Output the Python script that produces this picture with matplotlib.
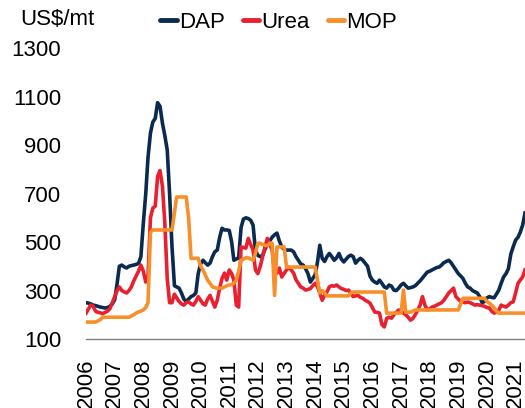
import numpy as np
import pandas as pd
import matplotlib
matplotlib.use('Agg')
import matplotlib.pyplot as plt

plt.rcParams['font.family'] = ['Liberation Sans', 'DejaVu Sans']

# monthly prices, Jan 2006 - May 2021 (US$/mt)
dap = [250, 248, 245, 240, 238, 235, 232, 230, 228, 230, 235, 245,
       262, 330, 400, 405, 398, 393, 400, 403, 405, 408, 412, 440,
       578, 700, 850, 950, 995, 1010, 1075, 1060, 990, 940, 880, 700,
       480, 320, 315, 310, 290, 265, 255, 265, 275, 280, 290, 370,
       410, 425, 415, 405, 413, 440, 460, 467, 520, 557, 550, 550,
       548, 500, 425, 430, 435, 560, 595, 600, 597, 590, 570, 467,
       445, 440, 445, 470, 490, 505, 520, 530, 537, 505, 480, 470,
       467, 467, 467, 460, 440, 425, 410, 405, 390, 370, 335, 350,
       365, 420, 487, 433, 420, 440, 453, 440, 425, 435, 453, 430,
       418, 430, 440, 446, 440, 413, 425, 433, 425, 413, 400, 360,
       343, 335, 330, 343, 330, 315, 310, 323, 318, 302, 300, 310,
       323, 330, 320, 310, 312, 315, 320, 330, 340, 352, 365, 376,
       380, 385, 390, 395, 397, 405, 415, 420, 425, 415, 400, 385,
       370, 360, 350, 330, 315, 310, 300, 295, 290, 275, 250, 255,
       270, 275, 272, 270, 285, 302, 330, 356, 370, 390, 450, 480,
       508, 520, 540, 570, 620]

urea = [207, 225, 240, 235, 215, 210, 208, 205, 210, 215, 225, 250,
        275, 300, 315, 300, 295, 290, 300, 315, 340, 360, 380, 405,
        380, 335, 360, 600, 640, 648, 770, 795, 730, 580, 350, 250,
        250, 285, 270, 255, 245, 240, 250, 253, 245, 240, 255, 275,
        260, 245, 240, 265, 280, 255, 232, 260, 310, 350, 372, 343,
        385, 370, 343, 240, 232, 480, 478, 475, 515, 490, 467, 385,
        370, 400, 438, 480, 515, 490, 467, 385, 372, 393, 356, 370,
        385, 397, 385, 372, 345, 330, 315, 310, 302, 305, 308, 320,
        330, 315, 290, 260, 280, 295, 315, 320, 318, 323, 315, 308,
        305, 300, 302, 290, 275, 278, 280, 272, 268, 260, 255, 248,
        230, 211, 210, 207, 160, 150, 185, 190, 186, 200, 210, 220,
        215, 207, 200, 190, 178, 185, 200, 220, 240, 275, 240, 220,
        225, 232, 235, 240, 245, 250, 260, 275, 290, 300, 310, 275,
        265, 255, 253, 250, 253, 250, 245, 240, 242, 240, 238, 235,
        230, 228, 215, 207, 211, 220, 240, 235, 232, 240, 250, 253,
        290, 330, 343, 356, 385]

mop = [170, 170, 170, 170, 170, 175, 180, 190, 190, 190, 190, 190,
       190, 190, 190, 190, 190, 190, 190, 195, 200, 207, 212, 215,
       220, 230, 250, 540, 550, 550, 550, 550, 550, 550, 550, 550,
       550, 620, 686, 686, 686, 686, 686, 600, 433, 433, 433, 433,
       400, 385, 365, 343, 330, 315, 312, 310, 310, 310, 315, 320,
       323, 325, 330, 343, 380, 425, 430, 435, 435, 430, 425, 453,
       495, 495, 490, 487, 485, 495, 495, 280, 480, 480, 480, 480,
       397, 397, 397, 397, 397, 397, 397, 397, 397, 397, 397, 397,
       397, 340, 290, 300, 290, 278, 278, 278, 278, 278, 278, 278,
       278, 278, 278, 290, 294, 294, 294, 294, 294, 294, 294, 294,
       294, 294, 294, 294, 294, 294, 207, 207, 207, 207, 207, 207,
       207, 302, 211, 211, 211, 215, 220, 220, 220, 220, 220, 220,
       220, 220, 220, 220, 220, 220, 220, 220, 220, 220, 220, 220,
       220, 245, 268, 268, 268, 268, 268, 268, 268, 268, 268, 268,
       255, 248, 240, 230, 215, 207, 207, 207, 207, 207, 207, 207,
       207, 207, 207, 207, 207]

dates = pd.date_range('2006-01-01', periods=len(dap), freq='MS')
years = list(range(2006, 2022))

fig = plt.figure(figsize=(5.25, 4.08), dpi=100)
ax = fig.add_axes([0.164, 0.169, 0.836, 0.713])

ax.plot(dates, dap, color='#0b2a4f', lw=2.6, label='DAP')
ax.plot(dates, urea, color='#e8202f', lw=2.6, label='Urea')
ax.plot(dates, mop, color='#f7902b', lw=2.6, label='MOP')

ax.set_xlim(dates[0], dates[-1])
ax.set_ylim(100, 1300)
ax.set_yticks(range(100, 1301, 200))
ax.set_xticks([pd.Timestamp(f'{y}-01-01') for y in years])
ax.set_xticklabels([str(y) for y in years], rotation=90)
ax.tick_params(axis='both', length=0, labelsize=16)
ax.tick_params(axis='x', pad=14)
ax.tick_params(axis='y', pad=18)

for s in ['top', 'right', 'left']:
    ax.spines[s].set_visible(False)
ax.spines['bottom'].set_color('#808080')
ax.spines['bottom'].set_linewidth(1.0)

fig.text(0.038, 0.951, 'US$/mt', fontsize=16, va='center', ha='left')

leg = fig.legend(loc='center left', bbox_to_anchor=(0.305, 0.946), ncol=3,
                 frameon=False, fontsize=16, handlelength=0.75,
                 handletextpad=0.1, columnspacing=0.8, borderpad=0,
                 borderaxespad=0)
for h in leg.get_lines():
    h.set_linewidth(3.5)
    h.set_solid_capstyle('round')

fig.savefig('out.png', dpi=100)
